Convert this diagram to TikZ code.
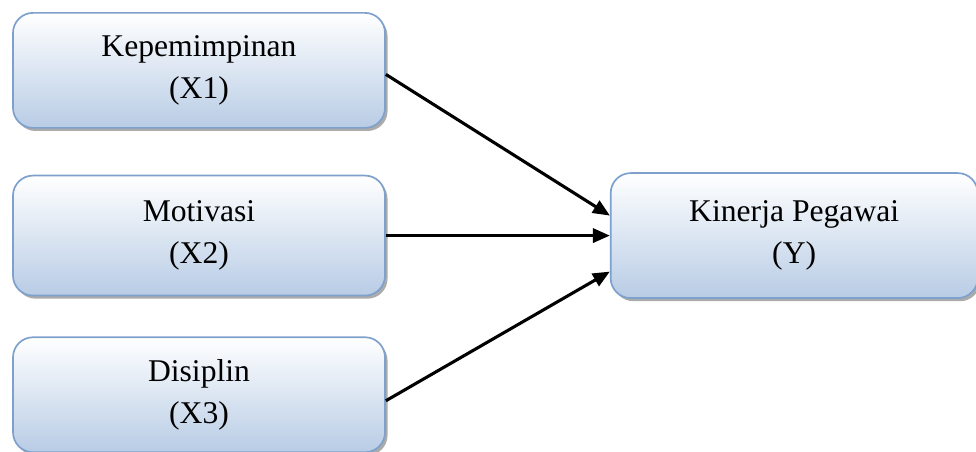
\documentclass[tikz,border=0pt]{standalone}
\usepackage{fontspec}
\setmainfont{Liberation Serif}
\usepackage{tikz}
\usetikzlibrary{arrows.meta,positioning,shadows}

\definecolor{rand}{RGB}{126,160,204}
\definecolor{isibawah}{RGB}{184,204,229}

\begin{document}
\begin{tikzpicture}[
    kotak/.style={draw=rand, line width=1.2pt, rounded corners=0.5cm, top color=white, bottom color=isibawah,
        minimum width=9.3cm, align=center, font=\fontsize{22.5}{29.5}\selectfont,
        drop shadow={shadow xshift=1.8pt, shadow yshift=-2.2pt, fill=black!55, opacity=0.6}},
    panah/.style={-{Triangle[length=12pt,width=10pt]}, line width=2.2pt}
]
    \useasboundingbox (0,0) rectangle (24.4,-11.3);
    \node[kotak, minimum height=2.875cm] (x1) at (4.975,-1.76) {Kepemimpinan\\(X1)};
    \node[kotak, minimum height=3cm, below=1.15cm of x1] (x2) {Motivasi\\(X2)};
    \node[kotak, minimum height=2.875cm, below=1cm of x2] (x3) {Disiplin\\(X3)};
    \node[kotak, minimum width=9.175cm, minimum height=3.125cm, right=5.6cm of x2] (y) {Kinerja Pegawai\\(Y)};

    \draw[panah] ([yshift=-0.1cm]x1.east) -- ([yshift=0.5cm]y.west);
    \draw[panah] (x2.east) -- (y.west);
    \draw[panah] ([yshift=-0.15cm]x3.east) -- ([yshift=-0.9cm]y.west);
\end{tikzpicture}
\end{document}
